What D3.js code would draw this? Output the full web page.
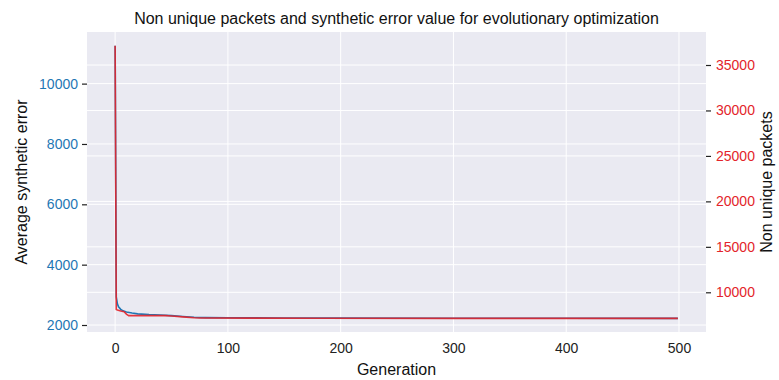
<!DOCTYPE html>
<html>
<head>
<meta charset="utf-8">
<script src="https://cdn.jsdelivr.net/npm/d3@7"></script>
<style>
  body { margin: 0; background: #fff; }
  text { font-family: "Liberation Sans", Arial, sans-serif; }
</style>
</head>
<body>
<div id="chart"></div>
<script>
// generation / value pairs
const errorGen   = [0, 1, 2, 3, 5, 7, 10, 15, 20, 30, 40, 50, 60, 70, 80, 100, 150, 200, 300, 400, 499];
const errorValue = [11259, 2930, 2700, 2600, 2520, 2470, 2430, 2395, 2370, 2345, 2330, 2310, 2280, 2255, 2245, 2238, 2232, 2228, 2225, 2222, 2220];

const packetGen   = [0, 1, 2, 5, 8, 10, 12, 45, 50, 60, 70, 75, 120, 123, 180, 182, 300, 499];
const packetValue = [37130, 8100, 8050, 7950, 7870, 7600, 7440, 7430, 7400, 7300, 7200, 7170, 7165, 7155, 7150, 7140, 7136, 7134];

const xTicks = [0, 100, 200, 300, 400, 500];
const leftTicks = [2000, 4000, 6000, 8000, 10000];
const rightTicks = [10000, 15000, 20000, 25000, 30000, 35000];

const blue = "#1f77b4";
const red = "#e3242b";

const margin = {top: 32, right: 73, bottom: 48, left: 87};
const W = 779, H = 380;
const width = W - margin.left - margin.right;
const height = H - margin.top - margin.bottom;

const svg = d3.select("#chart").append("svg")
  .attr("width", W)
  .attr("height", H);

const g = svg.append("g")
  .attr("transform", "translate(" + margin.left + "," + margin.top + ")");

// matplotlib style 5% margins
function padded(min, max) {
  const d = (max - min) * 0.05;
  return [min - d, max + d];
}

const xScale = d3.scaleLinear()
  .domain(padded(0, 499))
  .range([0, width]);

const yLeft = d3.scaleLinear()
  .domain(padded(d3.min(errorValue), d3.max(errorValue)))
  .range([height, 0]);

const yRight = d3.scaleLinear()
  .domain(padded(d3.min(packetValue), d3.max(packetValue)))
  .range([height, 0]);

g.append("rect")
  .attr("width", width)
  .attr("height", height)
  .attr("fill", "#eaeaf2");

// grid lines (both y axes draw theirs, like twinx in seaborn)
g.append("g").selectAll("line").data(xTicks).enter().append("line")
  .attr("x1", d => xScale(d)).attr("x2", d => xScale(d))
  .attr("y1", 0).attr("y2", height)
  .attr("stroke", "#fff").attr("stroke-width", 1);

g.append("g").selectAll("line").data(leftTicks).enter().append("line")
  .attr("x1", 0).attr("x2", width)
  .attr("y1", d => yLeft(d)).attr("y2", d => yLeft(d))
  .attr("stroke", "#fff").attr("stroke-width", 1);

g.append("g").selectAll("line").data(rightTicks).enter().append("line")
  .attr("x1", 0).attr("x2", width)
  .attr("y1", d => yRight(d)).attr("y2", d => yRight(d))
  .attr("stroke", "#fff").attr("stroke-width", 1);

// axes
const xAxis = g.append("g")
  .attr("transform", "translate(0," + height + ")")
  .call(d3.axisBottom(xScale).tickValues(xTicks).tickSize(0).tickPadding(11));

const leftAxis = g.append("g")
  .call(d3.axisLeft(yLeft).tickValues(leftTicks).tickSize(5).tickPadding(4).tickFormat(d3.format("d")));

const rightAxis = g.append("g")
  .attr("transform", "translate(" + width + ",0)")
  .call(d3.axisRight(yRight).tickValues(rightTicks).tickSize(5).tickPadding(5).tickFormat(d3.format("d")));

svg.selectAll(".domain").remove();
svg.selectAll(".tick line").attr("stroke", "#222").attr("stroke-width", 1.2);
svg.selectAll(".tick text").attr("font-size", 14).attr("font-family", "Liberation Sans, Arial, sans-serif");
xAxis.selectAll(".tick text").attr("fill", "#222");
leftAxis.selectAll(".tick text").attr("fill", blue);
rightAxis.selectAll(".tick text").attr("fill", red);

// lines
const errorData = errorGen.map((x, i) => ({x: x, y: errorValue[i]}));
const packetData = packetGen.map((x, i) => ({x: x, y: packetValue[i]}));

g.append("path")
  .datum(errorData)
  .attr("fill", "none")
  .attr("stroke", blue)
  .attr("stroke-width", 1.6)
  .attr("d", d3.line().x(d => xScale(d.x)).y(d => yLeft(d.y)));

g.append("path")
  .datum(packetData)
  .attr("fill", "none")
  .attr("stroke", red)
  .attr("stroke-opacity", 0.9)
  .attr("stroke-width", 1.6)
  .attr("d", d3.line().x(d => xScale(d.x)).y(d => yRight(d.y)));

// labels
svg.append("text")
  .attr("x", margin.left + width / 2)
  .attr("y", 24)
  .attr("text-anchor", "middle")
  .attr("font-size", 16)
  .attr("fill", "#111")
  .text("Non unique packets and synthetic error value for evolutionary optimization");

svg.append("text")
  .attr("x", margin.left + width / 2)
  .attr("y", 375)
  .attr("text-anchor", "middle")
  .attr("font-size", 16)
  .attr("fill", "#111")
  .text("Generation");

svg.append("text")
  .attr("transform", "translate(27," + (margin.top + height / 2) + ") rotate(-90)")
  .attr("text-anchor", "middle")
  .attr("font-size", 16)
  .attr("fill", "#111")
  .text("Average synthetic error");

svg.append("text")
  .attr("transform", "translate(772," + (margin.top + height / 2) + ") rotate(-90)")
  .attr("text-anchor", "middle")
  .attr("font-size", 16)
  .attr("fill", "#111")
  .text("Non unique packets");
</script>
</body>
</html>
